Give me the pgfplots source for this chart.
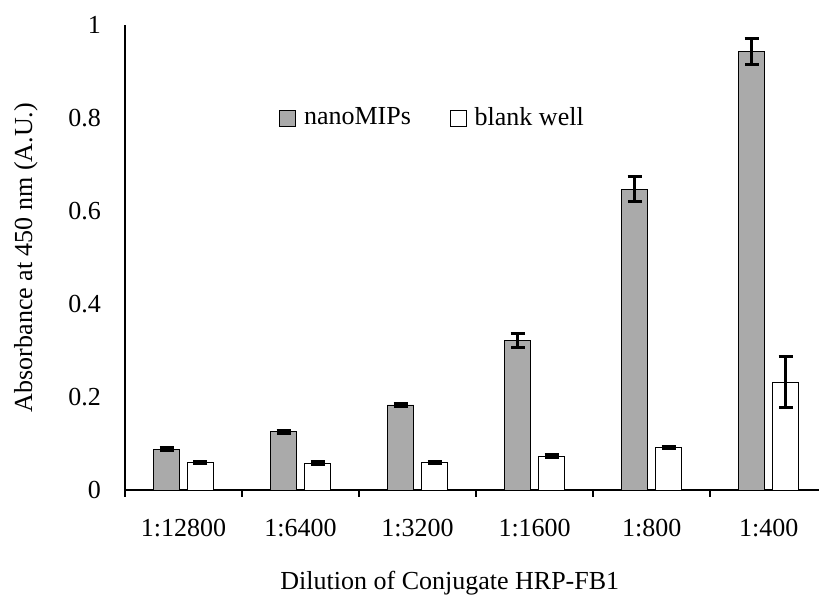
\documentclass[border=0pt]{standalone}
\usepackage{fontspec}
\setmainfont{Liberation Serif}
\usepackage{pgfplots}
\pgfplotsset{compat=1.18}
\definecolor{barfill}{RGB}{170,170,170}

\begin{document}
\fontsize{26}{31}\selectfont
\begin{tikzpicture}
\path[use as bounding box] (0,0) rectangle (819pt,599pt);
\begin{axis}[
  at={(125pt,109pt)}, anchor=south west,
  width=694pt, height=465pt, scale only axis,
  xmin=-0.5, xmax=5.43, ymin=0, ymax=1,
  axis x line*=bottom, axis y line*=left,
  axis line style={line width=1.5pt, black, -},
  xtick={0,...,5},
  xticklabels={1:12800,1:6400,1:3200,1:1600,1:800,1:400},
  minor xtick={-0.5,0.5,...,5.5},
  ytick={0,0.2,...,1},
  major tick length=0pt, minor tick length=7pt,
  tick align=outside,
  every tick/.style={line width=1.5pt, black},
  /pgf/number format/assume math mode=true,
  xticklabel style={anchor=base, inner sep=0pt},
  xticklabel shift=47pt,
  yticklabel style={anchor=east, inner sep=0pt},
  yticklabel shift=24pt,
  xlabel={Dilution of Conjugate HRP-FB1},
  ylabel={Absorbance at 450 nm (A.U.)},
  every axis x label/.style={at={(axis description cs:0.468,-0.213)}, anchor=base, inner sep=0pt},
  every axis y label/.style={at={(axis description cs:-0.1427,0.5)}, rotate=90, anchor=center, inner sep=0pt},
  bar width=0.225,
  legend columns=2,
  legend style={draw=none, fill=none, at={(axis cs:0.816,0.8)}, anchor=west,
    inner sep=0pt,
    /tikz/every odd column/.append style={column sep=6pt},
    /tikz/every even column/.append style={column sep=37pt}},
  legend image code/.code={\draw[#1, line width=0.8pt] (0pt,-8pt) rectangle (16pt,8pt);},
  error bars/error bar style={line width=3pt, black},
  error bars/error mark options={rotate=90, mark size=7pt, line width=3pt, black},
]
% nanoMIPs, bars centred left of each category
\addplot[ybar, bar shift=0pt, fill=barfill, draw=black, line width=0.8pt,
  error bars/.cd, y dir=both, y explicit]
  coordinates {
    (-0.145,0.088) +- (0,0.003)
    (0.855,0.125) +- (0,0.004)
    (1.855,0.183) +- (0,0.004)
    (2.855,0.322) +- (0,0.015)
    (3.855,0.647) +- (0,0.027)
    (4.855,0.943) +- (0,0.029)
  };
\addlegendentry{nanoMIPs}
% blank well
\addplot[ybar, bar shift=0pt, fill=white, draw=black, line width=0.8pt,
  error bars/.cd, y dir=both, y explicit]
  coordinates {
    (0.145,0.059) +- (0,0.002)
    (1.145,0.058) +- (0,0.003)
    (2.145,0.060) +- (0,0.002)
    (3.145,0.073) +- (0,0.003)
    (4.145,0.092) +- (0,0.002)
    (5.145,0.232) +- (0,0.055)
  };
\addlegendentry{blank well}
\end{axis}
\end{tikzpicture}
\end{document}
